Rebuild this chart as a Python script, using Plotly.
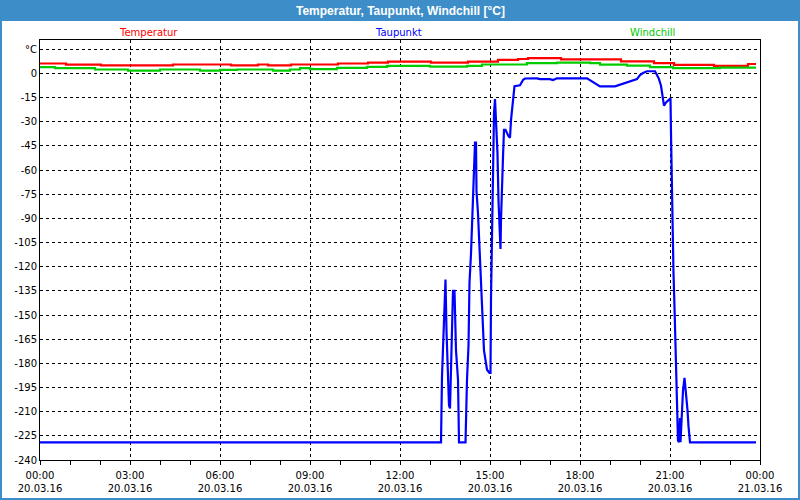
import plotly.graph_objects as go

DAY = "2016-03-20"

temp_times = ["00:00","00:52","02:02","04:26","06:22","07:16","07:36","08:22","09:56","10:56","11:36",
              "13:02","14:16","15:16","15:56","16:16","17:22","19:22","20:28","21:08","22:28","23:36","23:52"]
temp_vals = [6.1,5.4,4.9,5.5,4.9,5.5,4.9,5.5,6.1,6.7,7.3,6.7,7.3,8.4,8.9,9.4,8.7,7.4,6.3,5.2,4.6,5.8,5.8]

wind_times = ["00:00","00:30","01:50","02:56","04:00","05:20","06:00","06:34","07:46","08:20","08:40","09:00",
              "09:54","10:54","11:34","13:00","14:14","14:44","16:14","17:14","18:20","18:40","19:34","20:20",
              "21:06","22:40","23:52"]
wind_vals = [3.9,3.2,2.4,1.7,2.4,1.7,2.2,2.4,1.7,2.4,3.2,2.6,3.4,4.0,4.7,4.2,4.7,5.5,6.3,6.7,6.3,5.4,4.8,3.9,
             3.3,3.6,3.6]

dew_times = ["00:00","13:22","13:24","13:26","13:28","13:30","13:31","13:33","13:35","13:38","13:40","13:41",
             "13:43","13:45","13:46","13:49","13:50","13:52","13:56","13:58","14:11","14:12","14:14","14:17",
             "14:19","14:22","14:24","14:26","14:28","14:30","14:32","14:33","14:36","14:38","14:40","14:42",
             "14:44","14:46","14:48","14:50","14:52","14:54","14:59","15:01","15:02","15:04","15:06","15:08",
             "15:10","15:13","15:15","15:17","15:19","15:21","15:22","15:24","15:26","15:28","15:31","15:37",
             "15:40","15:42","15:45","15:47","15:49","16:00","16:02","16:06","16:10","16:34","16:40","17:00",
             "17:06","17:14","18:14","18:20","18:26","18:34","18:40","19:10","19:14","19:26","19:34","19:46",
             "19:54","20:00","20:06","20:14","20:26","20:30","20:34","20:38","20:42","20:44","20:48","20:52",
             "20:57","21:01","21:02","21:03","21:05","21:06","21:07","21:09","21:11","21:12","21:14","21:16",
             "21:18","21:20","21:21","21:24","21:26","21:29","21:32","21:35","21:37","21:40","23:52"]
dew_vals = [-229,-229,-188,-168,-148,-128,-128,-160,-179,-206,-208,-193,
            -172,-153,-135,-135,-153,-172,-190,-229,-229,-209,-190,-169,
            -130,-112,-95,-79,-60,-43,-43,-73,-87,-102,-120,-137,
            -151,-164,-172,-176,-180,-184,-186,-186,-140,-91,-50,-25,
            -16,-35,-50,-79,-91,-109,-91,-64,-52,-35,-35,-39,
            -40,-29,-21,-14,-8,-7.4,-6.2,-4.1,-3.2,-3.1,-3.6,-3.6,
            -4.2,-3.1,-3.1,-4.2,-5.6,-7.3,-8.1,-8.1,-7.7,-6.7,-5.6,-4.8,
            -3.6,-1.1,0.2,1.3,1.5,1.3,-1.0,-3.6,-7.7,-12,-20,-18,
            -16.5,-15.5,-37,-59,-81,-103,-124,-145,-167,-188,-208,-228,
            -229,-214,-229,-212,-197,-189,-197,-209,-219,-229,-229]

y_ticks = [15] + list(range(0, -241, -15))
y_labels = ["°C"] + [str(v) for v in range(0, -241, -15)]

x_tick_times = ["2016-03-20 00:00","2016-03-20 03:00","2016-03-20 06:00","2016-03-20 09:00","2016-03-20 12:00",
                "2016-03-20 15:00","2016-03-20 18:00","2016-03-20 21:00","2016-03-21 00:00"]
x_tick_hours = ["00:00","03:00","06:00","09:00","12:00","15:00","18:00","21:00","00:00"]
x_tick_dates = ["20.03.16"]*8 + ["21.03.16"]

series_names = ["Temperatur", "Taupunkt", "Windchill"]
series_colors = ["#ff0000", "#0000ff", "#00cc00"]

def ts(times):
    return [f"{DAY} {t}" for t in times]

fig = go.Figure()
fig.add_trace(go.Scatter(x=ts(temp_times), y=temp_vals, mode="lines", line_shape="hv",
                         line=dict(color=series_colors[0], width=2.2), name=series_names[0]))
fig.add_trace(go.Scatter(x=ts(wind_times), y=wind_vals, mode="lines", line_shape="hv",
                         line=dict(color=series_colors[2], width=2.2), name=series_names[2]))
fig.add_trace(go.Scatter(x=ts(dew_times), y=dew_vals, mode="lines",
                         line=dict(color=series_colors[1], width=2.2), name=series_names[1]))

FONT = "DejaVu Sans"
BLUE = "#3d8ec8"

L, R, T, B = 40, 40, 40, 40
W, H = 800, 500
pw, ph = W - L - R, H - T - B
def px(x):
    return (x - L) / pw
def py(y):
    return (H - B - y) / ph

fig.add_shape(type="rect", xref="paper", yref="paper", layer="below",
              x0=px(2), x1=px(798), y0=py(498), y1=py(21),
              fillcolor="white", line=dict(width=0))

annotations = [
    dict(text="<b>Temperatur, Taupunkt, Windchill [°C]</b>", x=px(400), y=py(10.5), xref="paper", yref="paper",
         showarrow=False, font=dict(family="Liberation Sans", size=12, color="white"), xanchor="center", yanchor="middle"),
]
for name, col, xc in zip(series_names, series_colors, [148, 398, 652]):
    annotations.append(dict(text=name, x=px(xc), y=py(32), xref="paper", yref="paper", showarrow=False,
                            font=dict(family=FONT, size=10, color=col), xanchor="center", yanchor="middle"))

fig.update_layout(
    width=W, height=H, margin=dict(l=L, r=R, t=T, b=B, autoexpand=False),
    paper_bgcolor=BLUE, plot_bgcolor="white",
    showlegend=False, annotations=annotations,
    font=dict(family=FONT, size=10, color="black"),
)
fig.update_xaxes(
    type="date", range=["2016-03-20 00:00", "2016-03-21 00:00"], automargin=False,
    tickvals=x_tick_times, ticktext=[f"{h}<br>{d}" for h, d in zip(x_tick_hours, x_tick_dates)],
    showgrid=True, gridcolor="black", griddash="3px,3px", gridwidth=1,
    ticks="outside", ticklen=4, tickcolor="black", ticklabelstandoff=2,
    minor=dict(dtick=3600000, ticks="outside", ticklen=4, tickcolor="black", showgrid=False),
    showline=True, linecolor="black", linewidth=1, mirror=True, zeroline=False,
    tickfont=dict(family=FONT, size=10, color="black"),
)
fig.update_yaxes(
    range=[-240, 20.7], tickvals=y_ticks, ticktext=y_labels, automargin=False,
    showgrid=True, gridcolor="black", griddash="3px,3px", gridwidth=1,
    ticks="", showline=True, linecolor="black", linewidth=1, mirror=True, zeroline=False,
    tickfont=dict(family=FONT, size=10, color="black"),
)

fig.write_html("out.html")
